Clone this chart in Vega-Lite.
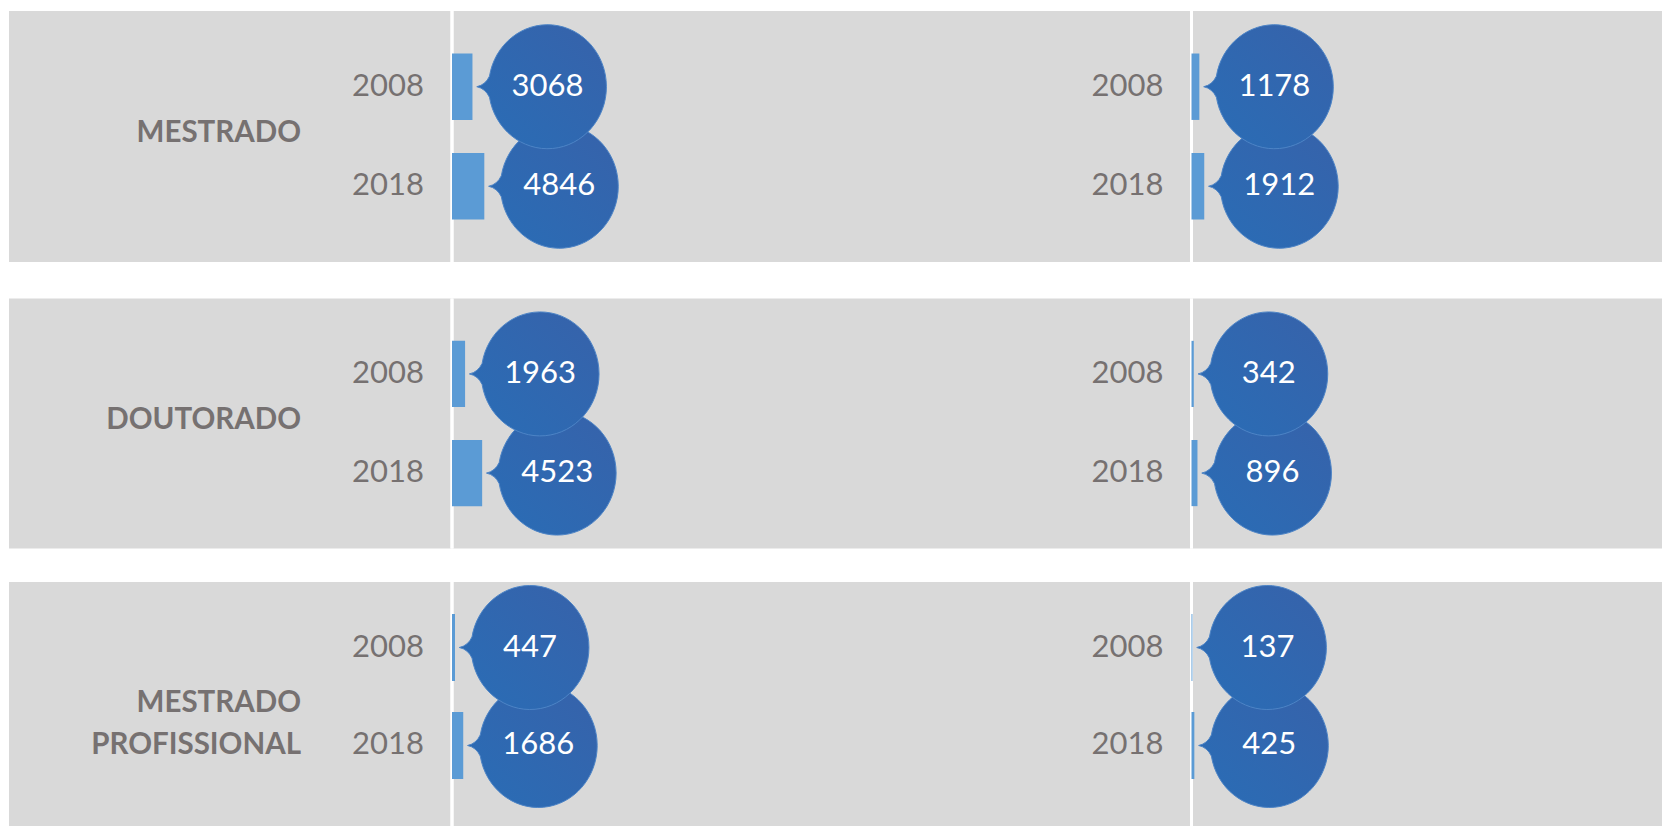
{
  "$schema": "https://vega.github.io/schema/vega-lite/v6.json",
  "padding": {"left": 9, "top": 9, "right": 0, "bottom": 0},
  "background": "#FFFFFF",
  "config": {
    "view": {"fill": "#D9D9D9", "stroke": null, "strokeWidth": 0},
    "axis": {"disable": true},
    "legend": {"disable": true}
  },
  "datasets": {
    "bars": [
      {"nivel": "MESTRADO", "lado": "A", "ano": "2018", "valor": 4846},
      {"nivel": "MESTRADO", "lado": "A", "ano": "2008", "valor": 3068},
      {"nivel": "MESTRADO", "lado": "B", "ano": "2018", "valor": 1912},
      {"nivel": "MESTRADO", "lado": "B", "ano": "2008", "valor": 1178},
      {"nivel": "DOUTORADO", "lado": "A", "ano": "2018", "valor": 4523},
      {"nivel": "DOUTORADO", "lado": "A", "ano": "2008", "valor": 1963},
      {"nivel": "DOUTORADO", "lado": "B", "ano": "2018", "valor": 896},
      {"nivel": "DOUTORADO", "lado": "B", "ano": "2008", "valor": 342},
      {"nivel": "MESTRADO PROFISSIONAL", "lado": "A", "ano": "2018", "valor": 1686},
      {"nivel": "MESTRADO PROFISSIONAL", "lado": "A", "ano": "2008", "valor": 447},
      {"nivel": "MESTRADO PROFISSIONAL", "lado": "B", "ano": "2018", "valor": 425},
      {"nivel": "MESTRADO PROFISSIONAL", "lado": "B", "ano": "2008", "valor": 137}
    ]
  },
  "spacing": 32.5,
  "vconcat": [
    {
      "spacing": 0,
      "hconcat": [
        {
          "width": 826, "height": 251,
          "data": {"name": "bars"},
          "transform": [{"filter": "datum.nivel === 'MESTRADO' && datum.lado === 'A'"}],
          "layer": [
            {"mark": {"type": "rule", "color": "#FFFFFF", "strokeWidth": 3},
             "encoding": {"x": {"datum": 0, "type": "quantitative", "scale": {"domain": [-66450, 57450], "nice": false, "zero": false}}}},
            {"mark": {"type": "bar", "color": "#5B9BD5", "opacity": 1},
             "encoding": {"x": {"field": "valor", "type": "quantitative"}, "y": {"field": "ano", "type": "nominal", "scale": {"domain": ["2008", "2018"], "paddingInner": 0.333, "paddingOuter": 0.427}}}},
            {"mark": {"type": "text", "align": "right", "baseline": "middle", "dx": -28, "font": "Lato", "fontSize": 31, "color": "#767171"},
             "encoding": {"x": {"datum": 0, "type": "quantitative"}, "y": {"field": "ano", "type": "nominal"}, "text": {"field": "ano", "type": "nominal"}}},
            {"mark": {"type": "point", "shape": "M-0.935,-0.17A0.95,1,0,1,1,-0.935,0.17Q-1,0.03,-1.14,0Q-1,-0.03,-0.935,-0.17Z", "size": 15376, "filled": true, "opacity": 1, "xOffset": 75,
                      "fill": {"gradient": "linear", "x1": 0, "y1": 1, "x2": 1, "y2": 0, "stops": [{"offset": 0, "color": "#296DB6"}, {"offset": 1, "color": "#3762AA"}]},
                      "stroke": "#4D84C6", "strokeWidth": 1},
             "encoding": {"x": {"field": "valor", "type": "quantitative"}, "y": {"field": "ano", "type": "nominal"}}},
            {"mark": {"type": "text", "align": "center", "baseline": "middle", "dx": 75, "font": "Lato", "fontSize": 31, "color": "#FFFFFF"},
             "encoding": {"x": {"field": "valor", "type": "quantitative"}, "y": {"field": "ano", "type": "nominal"}, "text": {"field": "valor", "type": "quantitative", "format": "d"}}},
            {"transform": [{"filter": "datum.ano === '2008'"}],
             "mark": {"type": "text", "align": "right", "baseline": "middle", "dx": -151, "dy": -4, "font": "Lato", "fontWeight": "bold", "fontSize": 29.5, "color": "#767171", "lineBreak": " ", "lineHeight": 42},
             "encoding": {"x": {"datum": 0, "type": "quantitative"}, "text": {"field": "nivel", "type": "nominal"}}}
          ]
        },
        {
          "width": 827, "height": 251,
          "data": {"name": "bars"},
          "transform": [{"filter": "datum.nivel === 'MESTRADO' && datum.lado === 'B'"}],
          "layer": [
            {"mark": {"type": "rule", "color": "#FFFFFF", "strokeWidth": 3},
             "encoding": {"x": {"datum": 0, "type": "quantitative", "scale": {"domain": [-53475, 70575], "nice": false, "zero": false}}}},
            {"mark": {"type": "bar", "color": "#5B9BD5", "opacity": 1},
             "encoding": {"x": {"field": "valor", "type": "quantitative"}, "y": {"field": "ano", "type": "nominal", "scale": {"domain": ["2008", "2018"], "paddingInner": 0.333, "paddingOuter": 0.427}}}},
            {"mark": {"type": "text", "align": "right", "baseline": "middle", "dx": -28, "font": "Lato", "fontSize": 31, "color": "#767171"},
             "encoding": {"x": {"datum": 0, "type": "quantitative"}, "y": {"field": "ano", "type": "nominal"}, "text": {"field": "ano", "type": "nominal"}}},
            {"mark": {"type": "point", "shape": "M-0.935,-0.17A0.95,1,0,1,1,-0.935,0.17Q-1,0.03,-1.14,0Q-1,-0.03,-0.935,-0.17Z", "size": 15376, "filled": true, "opacity": 1, "xOffset": 75,
                      "fill": {"gradient": "linear", "x1": 0, "y1": 1, "x2": 1, "y2": 0, "stops": [{"offset": 0, "color": "#296DB6"}, {"offset": 1, "color": "#3762AA"}]},
                      "stroke": "#4D84C6", "strokeWidth": 1},
             "encoding": {"x": {"field": "valor", "type": "quantitative"}, "y": {"field": "ano", "type": "nominal"}}},
            {"mark": {"type": "text", "align": "center", "baseline": "middle", "dx": 75, "font": "Lato", "fontSize": 31, "color": "#FFFFFF"},
             "encoding": {"x": {"field": "valor", "type": "quantitative"}, "y": {"field": "ano", "type": "nominal"}, "text": {"field": "valor", "type": "quantitative", "format": "d"}}}
          ]
        }
      ]
    },
    {
      "spacing": 29.5,
      "vconcat": [
        {
          "spacing": 0,
          "hconcat": [
            {
              "width": 826, "height": 250,
              "data": {"name": "bars"},
              "transform": [{"filter": "datum.nivel === 'DOUTORADO' && datum.lado === 'A'"}],
              "layer": [
                {"mark": {"type": "rule", "color": "#FFFFFF", "strokeWidth": 3},
                 "encoding": {"x": {"datum": 0, "type": "quantitative", "scale": {"domain": [-66450, 57450], "nice": false, "zero": false}}}},
                {"mark": {"type": "bar", "color": "#5B9BD5", "opacity": 1},
                 "encoding": {"x": {"field": "valor", "type": "quantitative"}, "y": {"field": "ano", "type": "nominal", "scale": {"domain": ["2008", "2018"], "paddingInner": 0.333, "paddingOuter": 0.427}}}},
                {"mark": {"type": "text", "align": "right", "baseline": "middle", "dx": -28, "font": "Lato", "fontSize": 31, "color": "#767171"},
                 "encoding": {"x": {"datum": 0, "type": "quantitative"}, "y": {"field": "ano", "type": "nominal"}, "text": {"field": "ano", "type": "nominal"}}},
                {"mark": {"type": "point", "shape": "M-0.935,-0.17A0.95,1,0,1,1,-0.935,0.17Q-1,0.03,-1.14,0Q-1,-0.03,-0.935,-0.17Z", "size": 15376, "filled": true, "opacity": 1, "xOffset": 75,
                          "fill": {"gradient": "linear", "x1": 0, "y1": 1, "x2": 1, "y2": 0, "stops": [{"offset": 0, "color": "#296DB6"}, {"offset": 1, "color": "#3762AA"}]},
                          "stroke": "#4D84C6", "strokeWidth": 1},
                 "encoding": {"x": {"field": "valor", "type": "quantitative"}, "y": {"field": "ano", "type": "nominal"}}},
                {"mark": {"type": "text", "align": "center", "baseline": "middle", "dx": 75, "font": "Lato", "fontSize": 31, "color": "#FFFFFF"},
                 "encoding": {"x": {"field": "valor", "type": "quantitative"}, "y": {"field": "ano", "type": "nominal"}, "text": {"field": "valor", "type": "quantitative", "format": "d"}}},
                {"transform": [{"filter": "datum.ano === '2008'"}],
                 "mark": {"type": "text", "align": "right", "baseline": "middle", "dx": -151, "dy": -3.5, "font": "Lato", "fontWeight": "bold", "fontSize": 29.5, "color": "#767171", "lineBreak": " ", "lineHeight": 42},
                 "encoding": {"x": {"datum": 0, "type": "quantitative"}, "text": {"field": "nivel", "type": "nominal"}}}
              ]
            },
            {
              "width": 827, "height": 250,
              "data": {"name": "bars"},
              "transform": [{"filter": "datum.nivel === 'DOUTORADO' && datum.lado === 'B'"}],
              "layer": [
                {"mark": {"type": "rule", "color": "#FFFFFF", "strokeWidth": 3},
                 "encoding": {"x": {"datum": 0, "type": "quantitative", "scale": {"domain": [-53475, 70575], "nice": false, "zero": false}}}},
                {"mark": {"type": "bar", "color": "#5B9BD5", "opacity": 1},
                 "encoding": {"x": {"field": "valor", "type": "quantitative"}, "y": {"field": "ano", "type": "nominal", "scale": {"domain": ["2008", "2018"], "paddingInner": 0.333, "paddingOuter": 0.427}}}},
                {"mark": {"type": "text", "align": "right", "baseline": "middle", "dx": -28, "font": "Lato", "fontSize": 31, "color": "#767171"},
                 "encoding": {"x": {"datum": 0, "type": "quantitative"}, "y": {"field": "ano", "type": "nominal"}, "text": {"field": "ano", "type": "nominal"}}},
                {"mark": {"type": "point", "shape": "M-0.935,-0.17A0.95,1,0,1,1,-0.935,0.17Q-1,0.03,-1.14,0Q-1,-0.03,-0.935,-0.17Z", "size": 15376, "filled": true, "opacity": 1, "xOffset": 75,
                          "fill": {"gradient": "linear", "x1": 0, "y1": 1, "x2": 1, "y2": 0, "stops": [{"offset": 0, "color": "#296DB6"}, {"offset": 1, "color": "#3762AA"}]},
                          "stroke": "#4D84C6", "strokeWidth": 1},
                 "encoding": {"x": {"field": "valor", "type": "quantitative"}, "y": {"field": "ano", "type": "nominal"}}},
                {"mark": {"type": "text", "align": "center", "baseline": "middle", "dx": 75, "font": "Lato", "fontSize": 31, "color": "#FFFFFF"},
                 "encoding": {"x": {"field": "valor", "type": "quantitative"}, "y": {"field": "ano", "type": "nominal"}, "text": {"field": "valor", "type": "quantitative", "format": "d"}}}
              ]
            }
          ]
        },
        {
          "spacing": 0,
          "hconcat": [
            {
              "width": 826, "height": 244,
              "data": {"name": "bars"},
              "transform": [{"filter": "datum.nivel === 'MESTRADO PROFISSIONAL' && datum.lado === 'A'"}],
              "layer": [
                {"mark": {"type": "rule", "color": "#FFFFFF", "strokeWidth": 3},
                 "encoding": {"x": {"datum": 0, "type": "quantitative", "scale": {"domain": [-66450, 57450], "nice": false, "zero": false}}}},
                {"mark": {"type": "bar", "color": "#5B9BD5", "opacity": 1},
                 "encoding": {"x": {"field": "valor", "type": "quantitative"}, "y": {"field": "ano", "type": "nominal", "scale": {"domain": ["2008", "2018"], "paddingInner": 0.316, "paddingOuter": 0.403, "align": 0.405}}}},
                {"mark": {"type": "text", "align": "right", "baseline": "middle", "dx": -28, "font": "Lato", "fontSize": 31, "color": "#767171"},
                 "encoding": {"x": {"datum": 0, "type": "quantitative"}, "y": {"field": "ano", "type": "nominal"}, "text": {"field": "ano", "type": "nominal"}}},
                {"mark": {"type": "point", "shape": "M-0.935,-0.17A0.95,1,0,1,1,-0.935,0.17Q-1,0.03,-1.14,0Q-1,-0.03,-0.935,-0.17Z", "size": 15376, "filled": true, "opacity": 1, "xOffset": 75,
                          "fill": {"gradient": "linear", "x1": 0, "y1": 1, "x2": 1, "y2": 0, "stops": [{"offset": 0, "color": "#296DB6"}, {"offset": 1, "color": "#3762AA"}]},
                          "stroke": "#4D84C6", "strokeWidth": 1},
                 "encoding": {"x": {"field": "valor", "type": "quantitative"}, "y": {"field": "ano", "type": "nominal"}}},
                {"mark": {"type": "text", "align": "center", "baseline": "middle", "dx": 75, "font": "Lato", "fontSize": 31, "color": "#FFFFFF"},
                 "encoding": {"x": {"field": "valor", "type": "quantitative"}, "y": {"field": "ano", "type": "nominal"}, "text": {"field": "valor", "type": "quantitative", "format": "d"}}},
                {"transform": [{"filter": "datum.ano === '2008'"}],
                 "mark": {"type": "text", "align": "right", "baseline": "middle", "dx": -151, "dy": -1, "font": "Lato", "fontWeight": "bold", "fontSize": 29.5, "color": "#767171", "lineBreak": " ", "lineHeight": 42},
                 "encoding": {"x": {"datum": 0, "type": "quantitative"}, "text": {"field": "nivel", "type": "nominal"}}}
              ]
            },
            {
              "width": 827, "height": 244,
              "data": {"name": "bars"},
              "transform": [{"filter": "datum.nivel === 'MESTRADO PROFISSIONAL' && datum.lado === 'B'"}],
              "layer": [
                {"mark": {"type": "rule", "color": "#FFFFFF", "strokeWidth": 3},
                 "encoding": {"x": {"datum": 0, "type": "quantitative", "scale": {"domain": [-53475, 70575], "nice": false, "zero": false}}}},
                {"mark": {"type": "bar", "color": "#5B9BD5", "opacity": 1},
                 "encoding": {"x": {"field": "valor", "type": "quantitative"}, "y": {"field": "ano", "type": "nominal", "scale": {"domain": ["2008", "2018"], "paddingInner": 0.316, "paddingOuter": 0.403, "align": 0.405}}}},
                {"mark": {"type": "text", "align": "right", "baseline": "middle", "dx": -28, "font": "Lato", "fontSize": 31, "color": "#767171"},
                 "encoding": {"x": {"datum": 0, "type": "quantitative"}, "y": {"field": "ano", "type": "nominal"}, "text": {"field": "ano", "type": "nominal"}}},
                {"mark": {"type": "point", "shape": "M-0.935,-0.17A0.95,1,0,1,1,-0.935,0.17Q-1,0.03,-1.14,0Q-1,-0.03,-0.935,-0.17Z", "size": 15376, "filled": true, "opacity": 1, "xOffset": 75,
                          "fill": {"gradient": "linear", "x1": 0, "y1": 1, "x2": 1, "y2": 0, "stops": [{"offset": 0, "color": "#296DB6"}, {"offset": 1, "color": "#3762AA"}]},
                          "stroke": "#4D84C6", "strokeWidth": 1},
                 "encoding": {"x": {"field": "valor", "type": "quantitative"}, "y": {"field": "ano", "type": "nominal"}}},
                {"mark": {"type": "text", "align": "center", "baseline": "middle", "dx": 75, "font": "Lato", "fontSize": 31, "color": "#FFFFFF"},
                 "encoding": {"x": {"field": "valor", "type": "quantitative"}, "y": {"field": "ano", "type": "nominal"}, "text": {"field": "valor", "type": "quantitative", "format": "d"}}}
              ]
            }
          ]
        }
      ]
    }
  ]
}
